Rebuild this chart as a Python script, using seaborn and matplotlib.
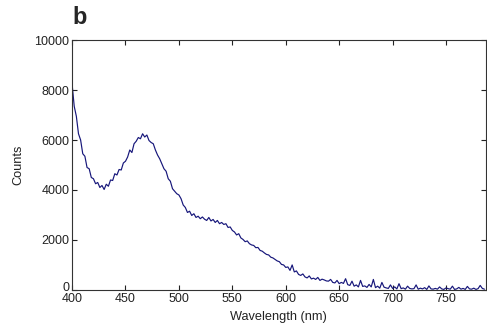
import numpy as np
import pandas as pd
import matplotlib
matplotlib.use("Agg")
import matplotlib.pyplot as plt
import matplotlib.transforms as mtransforms
import seaborn as sns

# emission spectrum, 2 nm steps from 400 nm
wavelength = np.arange(400, 788, 2)
counts = [
    8250, 7350, 6950, 6250, 6000, 5450, 5350, 4900, 4850, 4500,
    4450, 4250, 4300, 4100, 4180, 4020, 4230, 4150, 4400, 4380,
    4650, 4600, 4820, 4800, 5080, 5150, 5320, 5600, 5500, 5850,
    5950, 6100, 6050, 6250, 6120, 6200, 5980, 5900, 5850, 5600,
    5400, 5250, 5050, 4850, 4750, 4450, 4350, 4050, 3950, 3850,
    3800, 3650, 3400, 3300, 3100, 3150, 2980, 3050, 2900, 2950,
    2850, 2920, 2830, 2780, 2900, 2760, 2820, 2700, 2780, 2650,
    2700, 2620, 2650, 2500, 2520, 2380, 2320, 2200, 2250, 2080,
    2020, 1930, 1960, 1850, 1800, 1780, 1690, 1700, 1580, 1550,
    1480, 1420, 1400, 1310, 1280, 1220, 1160, 1130, 1020, 1000,
    900, 920, 780, 1000, 720, 760, 620, 580, 640, 520,
    480, 560, 440, 470, 420, 500, 380, 430, 400, 360,
    350, 420, 300, 280, 380, 250, 300, 260, 450, 210,
    180, 350, 150, 200, 120, 380, 140, 160, 100, 220,
    120, 420, 90, 150, 70, 300, 110, 80, 60, 200,
    60, 120, 40, 250, 50, 80, 30, 150, 60, 40,
    50, 200, 30, 70, 40, 90, 20, 160, 40, 30,
    60, 30, 120, 40, 20, 80, 50, 30, 150, 20,
    40, 100, 30, 60, 20, 140, 40, 30, 70, 20,
    50, 180, 60, 30,
]
x_ticks = [400, 450, 500, 550, 600, 650, 700, 750]
y_ticks = [0, 2000, 4000, 6000, 8000, 10000]

df = pd.DataFrame({"wavelength": wavelength, "counts": counts})

sns.set_style("ticks")
plt.rcParams["font.family"] = ["Liberation Sans", "DejaVu Sans"]

fig = plt.figure(figsize=(4.87, 3.34), dpi=100)
ax = fig.add_axes([0.148, 0.132, 0.849, 0.748])

sns.lineplot(data=df, x="wavelength", y="counts", ax=ax,
             color="#16167a", linewidth=0.85, estimator=None)

ax.set_xlim(400, 787)
ax.set_ylim(0, 10000)
ax.set_xticks(x_ticks)
ax.set_yticks(y_ticks)
ax.tick_params(direction="in", length=3.6, width=0.8, labelsize=9,
               colors="#222222", top=True, right=True)
ax.tick_params(axis="x", pad=2.5)
ax.tick_params(axis="y", pad=2)
for side in ["top", "right", "bottom", "left"]:
    ax.spines[side].set_visible(True)
    ax.spines[side].set_linewidth(0.8)
    ax.spines[side].set_color("#333333")

# the "0" label sits a little higher, as in the original
zero_lbl = ax.get_yticklabels()[0]
zero_lbl.set_transform(zero_lbl.get_transform()
                       + mtransforms.ScaledTranslation(0, 3 / 100, fig.dpi_scale_trans))

ax.set_xlabel("Wavelength (nm)", fontsize=9.2, color="#222222", labelpad=4)
ax.set_ylabel("Counts", fontsize=9.2, color="#222222", labelpad=7)
fig.text(0.148, 0.912, "b", fontsize=17, fontweight="bold", ha="left", va="bottom")

fig.savefig("out.png", dpi=100, facecolor="white")
